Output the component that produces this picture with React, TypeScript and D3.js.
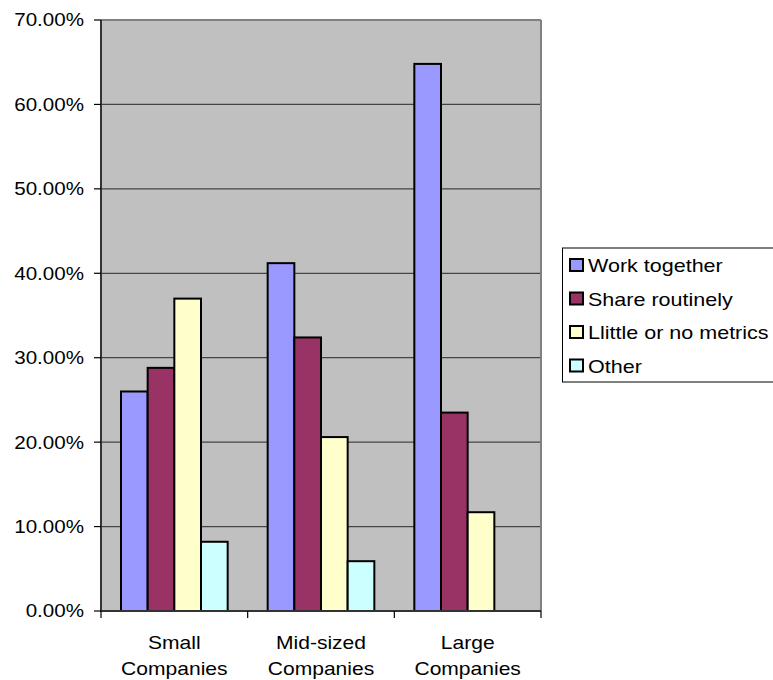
import React from "react";
import * as d3 from "d3";

const categories = [["Small", "Companies"], ["Mid-sized", "Companies"], ["Large", "Companies"]];
const seriesNames = ["Work together", "Share routinely", "Llittle or no metrics", "Other"];
const seriesColors = ["#9999FF", "#993366", "#FFFFCC", "#CCFFFF"];
const workTogether = [0.26, 0.412, 0.648];
const shareRoutinely = [0.288, 0.324, 0.235];
const littleMetrics = [0.37, 0.206, 0.117];
const other = [0.082, 0.059, 0];
const yTicks = [0, 0.1, 0.2, 0.3, 0.4, 0.5, 0.6, 0.7];

const FONT = "'Liberation Sans', Arial, sans-serif";
const SX = 1.17;

export default function App() {
  const series = [workTogether, shareRoutinely, littleMetrics, other];
  const left = 101, right = 541, top = 20, bottom = 611;
  const x0 = d3.scaleBand<number>().domain(d3.range(categories.length)).range([left, right]).paddingInner(0).paddingOuter(0);
  const x1 = d3.scaleBand<number>().domain(d3.range(series.length)).range([0, x0.bandwidth()]).paddingInner(0).paddingOuter(0.75);
  const y = d3.scaleLinear().domain([0, 0.7]).range([bottom, top]);
  const fmt = d3.format(".2%");
  const catTicks = d3.range(categories.length + 1).map((i) => left + i * x0.step());

  const T = (props: { x: number; y: number; anchor?: string; size?: number; children: React.ReactNode }) => (
    <text
      transform={`translate(${props.x},${props.y}) scale(${SX},1)`}
      textAnchor={props.anchor || "start"}
      fontFamily={FONT}
      fontSize={props.size || 18}
      fill="#000"
    >
      {props.children}
    </text>
  );

  return (
    <svg width={773} height={680} style={{ position: "absolute", left: 0, top: 0 }}>
      <rect x={0} y={0} width={773} height={680} fill="#fff" />
      <rect x={left} y={top} width={right - left} height={bottom - top} fill="#C0C0C0" />
      {yTicks.slice(1).map((t) => (
        <line key={t} x1={left} x2={right} y1={y(t)} y2={y(t)} stroke={t === 0.7 ? "#808080" : "#444"} strokeWidth={t === 0.7 ? 2 : 1.2} />
      ))}
      <line x1={right} x2={right} y1={top} y2={bottom} stroke="#808080" strokeWidth={2} />
      {series.map((vals, si) =>
        vals.map((v, ci) =>
          v > 0 ? (
            <rect
              key={`${si}-${ci}`}
              x={x0(ci)! + x1(si)!}
              y={y(v)}
              width={x1.bandwidth()}
              height={y(0) - y(v)}
              fill={seriesColors[si]}
              stroke="#000"
              strokeWidth={2}
            />
          ) : null
        )
      )}
      <line x1={left} x2={left} y1={top} y2={bottom + 1} stroke="#333" strokeWidth={2} />
      <line x1={left} x2={right} y1={bottom} y2={bottom} stroke="#333" strokeWidth={2} />
      {yTicks.map((t) => (
        <g key={"yt" + t}>
          <line x1={94} x2={left} y1={y(t)} y2={y(t)} stroke="#000" strokeWidth={1.2} />
          <T x={84} y={y(t) + 6.4} anchor="end" size={17.6}>{fmt(t)}</T>
        </g>
      ))}
      {catTicks.map((cx, i) => (
        <line key={"xt" + i} x1={cx} x2={cx} y1={bottom} y2={bottom + 7} stroke="#000" strokeWidth={1.2} />
      ))}
      {categories.map((lines, ci) => (
        <g key={"cl" + ci}>
          <T x={x0(ci)! + x0.bandwidth() / 2} y={649} anchor="middle">{lines[0]}</T>
          <T x={x0(ci)! + x0.bandwidth() / 2} y={675} anchor="middle">{lines[1]}</T>
        </g>
      ))}
      <rect x={562.5} y={248} width={220} height={134} fill="#fff" stroke="#000" strokeWidth={1} />
      {seriesNames.map((name, i) => (
        <g key={"lg" + i}>
          <rect x={570} y={259 + i * 33.5} width={13} height={12} fill={seriesColors[i]} stroke="#000" strokeWidth={2} />
          <T x={588} y={272 + i * 33.5} size={18.4}>{name}</T>
        </g>
      ))}
    </svg>
  );
}
